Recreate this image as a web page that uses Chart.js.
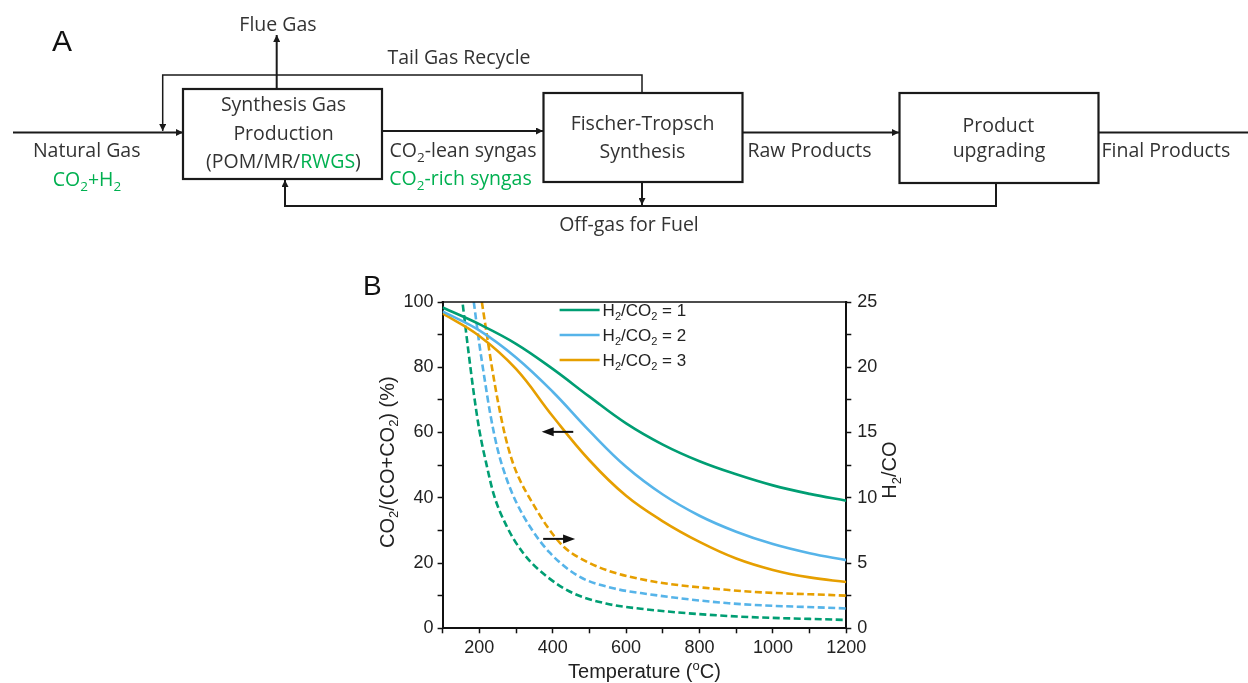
<!DOCTYPE html>
<html lang="en">
<head>
<meta charset="utf-8">
<title>CO2 to FT fuels</title>
<script src="https://cdn.jsdelivr.net/npm/chart.js@4.4.1/dist/chart.umd.min.js"></script>
<style>
  html, body { margin: 0; padding: 0; background: #fff; }
  body { width: 1248px; height: 683px; position: relative; overflow: hidden; }
  #fluxo { position: absolute; left: 0; top: 0; z-index: 2; pointer-events: none; }
  #grafico-wrap { position: absolute; left: 340px; top: 270px; width: 580px; height: 413px; }
</style>
</head>
<body>

<svg id="fluxo" width="1248" height="683" xmlns="http://www.w3.org/2000/svg">
  <defs>
    <marker id="ponta" viewBox="0 0 10 10" refX="10" refY="5" markerWidth="8" markerHeight="7"
      markerUnits="userSpaceOnUse" orient="auto">
      <path d="M0,0 L10,5 L0,10 Z" fill="#1a1a1a" />
    </marker>
  </defs>

  <g font-family="'Liberation Sans', Arial, sans-serif" fill="#111">
    <text x="52" y="51" font-size="30">A</text>
    <text x="363" y="295" font-size="28">B</text>
  </g>

  <!-- process blocks -->
  <g fill="none" stroke="#1a1a1a" stroke-width="2.2">
    <rect x="183" y="89" width="199" height="90" />
    <rect x="543.5" y="93" width="199" height="89" />
    <rect x="899.5" y="93" width="199" height="90" />
  </g>

  <!-- streams -->
  <g fill="none" stroke="#1a1a1a" stroke-width="2">
    <line x1="13" y1="132.5" x2="183" y2="132.5" marker-end="url(#ponta)" />
    <line x1="382" y1="131" x2="543" y2="131" marker-end="url(#ponta)" />
    <line x1="742.5" y1="132.5" x2="899" y2="132.5" marker-end="url(#ponta)" />
    <line x1="1098.5" y1="132.5" x2="1248" y2="132.5" />
    <line x1="276.7" y1="88" x2="276.7" y2="35" marker-end="url(#ponta)" />
    <line x1="642" y1="182" x2="642" y2="205" marker-end="url(#ponta)" />
    <polyline points="996,183 996,206 285,206 285,180" marker-end="url(#ponta)" />
  </g>
  <polyline points="642,93 642,75 162.7,75 162.7,131" fill="none" stroke="#1a1a1a"
    stroke-width="1.5" marker-end="url(#ponta)" />

  <g font-family="'Open Sans', Lato, sans-serif" font-size="19.5" fill="#333" text-anchor="middle">
    <text x="278" y="30.7">Flue Gas</text>
    <text x="459" y="64">Tail Gas Recycle</text>

    <text x="283.5" y="111">Synthesis Gas</text>
    <text x="283.5" y="140">Production</text>
    <text x="283.5" y="168.3">(POM/MR/<tspan fill="#00b050">RWGS</tspan>)</text>

    <text x="86.7" y="156.7">Natural Gas</text>
    <text x="87" y="186" fill="#00b050">CO<tspan font-size="13.5" dy="5">2</tspan><tspan dy="-5">+H</tspan><tspan font-size="13.5" dy="5">2</tspan></text>

    <text x="463" y="156.7">CO<tspan font-size="13.5" dy="5">2</tspan><tspan dy="-5">-lean syngas</tspan></text>
    <text x="460.5" y="185" fill="#00b050">CO<tspan font-size="13.5" dy="5">2</tspan><tspan dy="-5">-rich syngas</tspan></text>

    <text x="642.5" y="130">Fischer-Tropsch</text>
    <text x="642.5" y="158.3">Synthesis</text>

    <text x="747.5" y="156.7" text-anchor="start">Raw Products</text>

    <text x="998.3" y="131.7">Product</text>
    <text x="999" y="156.7">upgrading</text>

    <text x="1101.5" y="156.7" text-anchor="start">Final Products</text>

    <text x="629" y="230.7">Off-gas for Fuel</text>
  </g>
</svg>

<div id="grafico-wrap">
  <canvas id="grafico" width="580" height="413"></canvas>
</div>

<script>
// CO2/(CO+CO2) in the product gas, left axis (%)
const temperaturas = [100, 200, 300, 400, 500, 600, 700, 800, 900, 1000, 1100, 1200];
const co2Razao1 = [98.3, 93.2, 87.2, 79.5, 71.0, 62.8, 56.3, 51.2, 47.2, 43.8, 41.2, 39.1];
const co2Razao2 = [97.1, 91.3, 83.0, 72.5, 60.5, 49.5, 41.0, 34.5, 29.6, 25.8, 23.0, 20.9];
const co2Razao3 = [96.5, 89.6, 79.5, 65.0, 51.5, 40.6, 32.8, 26.5, 21.4, 17.9, 15.6, 14.2];

// H2/CO in the product gas, right axis
const tempH2co1 = [155, 170, 185, 200, 220, 240, 275, 320, 385, 455, 545, 640, 880, 1200];
const h2co1 = [24.8, 21.3, 18.0, 15.2, 12.5, 10.2, 7.8, 5.75, 3.95, 2.7, 1.9, 1.5, 0.94, 0.64];

const tempH2co2 = [185, 200, 215, 230, 250, 275, 300, 340, 390, 470, 565, 640, 880, 1200];
const h2co2 = [25, 21.8, 19.0, 16.4, 13.7, 11.4, 9.7, 7.7, 5.85, 4.0, 3.07, 2.7, 1.92, 1.52];

const tempH2co3 = [207, 220, 235, 250, 270, 290, 310, 345, 385, 430, 500, 610, 880, 1200];
const h2co3 = [25, 22.6, 19.9, 17.5, 14.8, 12.8, 11.4, 9.6, 7.8, 6.25, 5.0, 3.95, 2.93, 2.5];

const razoesH2co2 = ["1", "2", "3"];
const cores = ["#009E73", "#56B4E9", "#E69F00"];

const ticksX = [200, 400, 600, 800, 1000, 1200];
const ticksEsquerda = [0, 20, 40, 60, 80, 100];
const ticksDireita = [0, 5, 10, 15, 20, 25];

// arrows pointing each family of curves to its axis
const setaEsquerda = { de: 456, ate: 370, valor: 60.2, eixo: "y" };
const setaDireita = { de: 374, ate: 461, valor: 6.85, eixo: "y1" };

const fonte = '"Liberation Sans", Arial, sans-serif';

const tituloX = [["Temperature ("], ["o", "sup"], ["C)"]];
const tituloEsquerda = [["CO"], ["2", "sub"], ["/(CO+CO"], ["2", "sub"], [") (%)"]];
const tituloDireita = [["H"], ["2", "sub"], ["/CO"]];

function pontos(xs, ys) {
  return xs.map((x, i) => ({ x: x, y: ys[i] }));
}

function larguraTexto(ctx, partes, tamanho) {
  let largura = 0;
  partes.forEach(([texto, tipo]) => {
    ctx.font = `${tipo ? tamanho * 0.65 : tamanho}px ${fonte}`;
    largura += ctx.measureText(texto).width;
  });
  return largura;
}

// text with sub/superscripts, drawn piece by piece
function desenharTexto(ctx, partes, x, y, tamanho, alinhar) {
  let cx = alinhar === "center" ? x - larguraTexto(ctx, partes, tamanho) / 2 : x;
  ctx.textAlign = "left";
  ctx.textBaseline = "alphabetic";
  partes.forEach(([texto, tipo]) => {
    const t = tipo ? tamanho * 0.65 : tamanho;
    let dy = 0;
    if (tipo === "sub") dy = tamanho * 0.22;
    if (tipo === "sup") dy = -tamanho * 0.4;
    ctx.font = `${t}px ${fonte}`;
    ctx.fillText(texto, cx, y + dy);
    cx += ctx.measureText(texto).width;
  });
}

function desenharSeta(ctx, chart, seta) {
  const x1 = chart.scales.x.getPixelForValue(seta.de);
  const x2 = chart.scales.x.getPixelForValue(seta.ate);
  const y = chart.scales[seta.eixo].getPixelForValue(seta.valor);
  const dir = Math.sign(x2 - x1);
  ctx.lineWidth = 2;
  ctx.beginPath();
  ctx.moveTo(x1, y);
  ctx.lineTo(x2 - dir * 8, y);
  ctx.stroke();
  ctx.beginPath();
  ctx.moveTo(x2, y);
  ctx.lineTo(x2 - dir * 12, y - 4.5);
  ctx.lineTo(x2 - dir * 12, y + 4.5);
  ctx.closePath();
  ctx.fill();
}

const extras = {
  id: "extras",
  afterDraw(chart) {
    const { ctx, chartArea: area } = chart;
    const meioX = (area.left + area.right) / 2;
    const meioY = (area.top + area.bottom) / 2;

    ctx.save();
    ctx.strokeStyle = "#111";
    ctx.fillStyle = "#111";

    // top frame line
    ctx.lineWidth = 1.6;
    ctx.beginPath();
    ctx.moveTo(area.left - 1, area.top);
    ctx.lineTo(area.right + 1, area.top);
    ctx.stroke();

    // axis titles
    ctx.fillStyle = "#222";
    desenharTexto(ctx, tituloX, meioX, area.bottom + 50, 20, "center");

    ctx.save();
    ctx.translate(area.left - 49, meioY - 3);
    ctx.rotate(-Math.PI / 2);
    desenharTexto(ctx, tituloEsquerda, 0, 0, 20, "center");
    ctx.restore();

    ctx.save();
    ctx.translate(area.right + 50, meioY + 5);
    ctx.rotate(-Math.PI / 2);
    desenharTexto(ctx, tituloDireita, 0, 0, 20, "center");
    ctx.restore();

    // legend for the solid curves
    razoesH2co2.forEach((r, i) => {
      const y = area.top + 8 + i * 25;
      const x0 = area.left + 117;
      ctx.strokeStyle = cores[i];
      ctx.lineWidth = 2.6;
      ctx.beginPath();
      ctx.moveTo(x0, y);
      ctx.lineTo(x0 + 40, y);
      ctx.stroke();
      ctx.fillStyle = "#222";
      desenharTexto(ctx, [["H"], ["2", "sub"], ["/CO"], ["2", "sub"], [" = " + r]], x0 + 43, y + 6, 17, "left");
    });

    ctx.strokeStyle = "#111";
    ctx.fillStyle = "#111";
    desenharSeta(ctx, chart, setaEsquerda);
    desenharSeta(ctx, chart, setaDireita);

    ctx.restore();
  },
};

const linhaSolida = (dados, i) => ({
  label: `H2/CO2 = ${razoesH2co2[i]}`,
  data: pontos(temperaturas, dados),
  borderColor: cores[i],
  tension: 0.4,
  yAxisID: "y",
});

const linhaTracejada = (xs, dados, i) => ({
  label: `H2/CO (H2/CO2 = ${razoesH2co2[i]})`,
  data: pontos(xs, dados),
  borderColor: cores[i],
  borderDash: [7, 3.5],
  cubicInterpolationMode: "monotone",
  yAxisID: "y1",
});

const eixoBase = {
  grid: { drawOnChartArea: false, tickLength: 5, tickColor: "#111", tickWidth: 1.5 },
  border: { color: "#111", width: 2 },
  ticks: { color: "#222", font: { family: fonte, size: 18 }, padding: 4 },
};

const ctx = document.getElementById("grafico").getContext("2d");

new Chart(ctx, {
  type: "line",
  data: {
    datasets: [
      linhaSolida(co2Razao1, 0),
      linhaSolida(co2Razao2, 1),
      linhaSolida(co2Razao3, 2),
      linhaTracejada(tempH2co1, h2co1, 0),
      linhaTracejada(tempH2co2, h2co2, 1),
      linhaTracejada(tempH2co3, h2co3, 2),
    ],
  },
  options: {
    responsive: false,
    animation: false,
    layout: { padding: { top: 32, left: 0, right: 0, bottom: 0 } },
    elements: {
      point: { radius: 0 },
      line: { borderWidth: 2.6, fill: false },
    },
    plugins: {
      legend: { display: false },
      tooltip: { enabled: false },
    },
    scales: {
      x: {
        ...eixoBase,
        type: "linear",
        min: 100,
        max: 1200,
        ticks: {
          ...eixoBase.ticks,
          stepSize: 100,
          maxRotation: 0,
          autoSkip: false,
          callback: (v) => (ticksX.includes(v) ? v : ""),
        },
        afterFit: (s) => {
          s.height = 54.7;
        },
      },
      y: {
        ...eixoBase,
        position: "left",
        min: 0,
        max: 100,
        ticks: {
          ...eixoBase.ticks,
          stepSize: 10,
          autoSkip: false,
          callback: (v) => (ticksEsquerda.includes(v) ? v : ""),
        },
        afterFit: (s) => {
          s.width = 102.6;
        },
      },
      y1: {
        ...eixoBase,
        position: "right",
        min: 0,
        max: 25,
        ticks: {
          ...eixoBase.ticks,
          stepSize: 2.5,
          autoSkip: false,
          padding: 6,
          callback: (v) => (ticksDireita.includes(v) ? v : ""),
        },
        afterFit: (s) => {
          s.width = 73.7;
        },
      },
    },
  },
  plugins: [extras],
});
</script>
</body>
</html>
